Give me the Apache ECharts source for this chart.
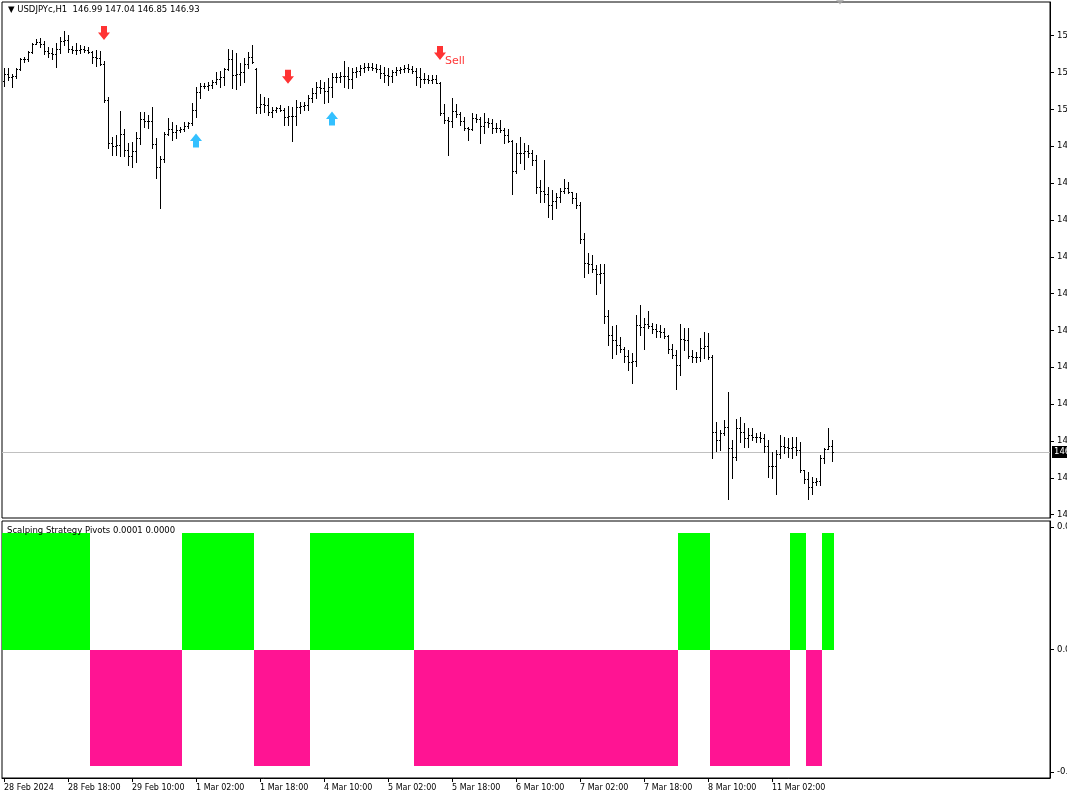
<!DOCTYPE html>
<html><head><meta charset="utf-8">
<script src="https://cdn.jsdelivr.net/npm/echarts@6/dist/echarts.min.js"></script>
<style>html,body{margin:0;padding:0;background:#fff}#c{width:1067px;height:800px}</style>
</head><body><div id="c"></div>
<script>
const symbolName = 'USDJPYc,H1';
const indicatorName = 'Scalping Strategy Pivots 0.0001 0.0000';

const barOpen = [150.40,150.46,150.43,150.44,150.51,150.60,150.60,150.67,150.74,150.76,
150.74,150.68,150.66,150.65,150.70,150.77,150.78,150.70,150.69,150.69,
150.70,150.69,150.67,150.62,150.61,150.56,150.22,149.82,149.79,149.80,
149.90,149.75,149.70,149.74,149.86,150.04,150.02,150.02,149.81,149.59,
149.67,149.90,149.95,149.92,149.94,149.95,149.98,150.00,150.13,150.29,
150.35,150.35,150.36,150.39,150.42,150.43,150.51,150.60,150.45,150.46,
150.48,150.56,150.62,150.51,150.15,150.18,150.17,150.11,150.13,150.14,
150.13,150.06,150.07,150.07,150.15,150.16,150.17,150.24,150.28,150.34,
150.33,150.30,150.34,150.43,150.43,150.44,150.44,150.42,150.48,150.49,
150.52,150.53,150.53,150.52,150.51,150.47,150.45,150.44,150.48,150.50,
150.51,150.52,150.51,150.49,150.43,150.42,150.42,150.41,150.42,150.38,
150.10,150.03,150.02,150.12,150.09,150.02,149.96,149.95,150.05,150.04,
149.98,150.01,150.00,149.96,149.96,149.94,149.89,149.84,149.56,149.72,
149.72,149.74,149.72,149.66,149.41,149.37,149.34,149.24,149.28,149.31,
149.37,149.40,149.36,149.30,149.24,148.92,148.70,148.69,148.64,148.59,
148.60,148.20,148.02,147.98,147.93,147.89,147.83,147.77,147.78,148.12,
148.10,148.13,148.11,148.08,148.06,148.05,148.01,147.89,147.84,147.74,
147.99,147.98,147.83,147.82,147.82,147.90,147.92,147.82,147.12,147.04,
147.11,147.16,146.97,146.88,147.15,147.12,147.06,147.09,147.07,147.07,
147.06,146.99,146.80,146.80,146.91,146.99,146.98,146.97,146.98,146.95,
146.76,146.68,146.60,146.65,146.66,146.87,146.96,146.99];

const barHigh = [150.515,150.521,150.459,150.521,150.615,150.624,150.677,150.749,150.789,150.802,
150.770,150.718,150.702,150.749,150.811,150.864,150.827,150.727,150.749,150.733,
150.727,150.718,150.677,150.686,150.677,150.584,150.250,149.876,149.892,150.116,
149.948,149.814,149.830,149.917,150.104,150.104,150.079,150.157,149.861,149.699,
149.917,150.048,150.010,149.986,149.970,150.017,150.010,150.188,150.344,150.375,
150.375,150.384,150.406,150.484,150.491,150.516,150.696,150.687,150.656,150.562,
150.609,150.671,150.734,150.516,150.273,150.251,150.235,150.157,150.157,150.173,
150.142,150.167,150.157,150.220,150.204,150.204,150.266,150.329,150.391,150.406,
150.391,150.422,150.469,150.469,150.484,150.584,150.531,150.516,150.531,150.547,
150.562,150.562,150.562,150.553,150.547,150.531,150.516,150.500,150.531,150.531,
150.547,150.553,150.540,150.516,150.516,150.469,150.453,150.453,150.453,150.391,
150.182,150.064,150.235,150.182,150.111,150.064,149.970,150.095,150.089,150.064,
150.095,150.048,150.039,150.002,150.033,149.955,149.945,149.846,149.815,149.871,
149.815,149.799,149.752,149.706,149.472,149.659,149.410,149.379,149.347,149.394,
149.478,149.456,149.363,149.347,149.270,148.974,148.787,148.771,148.678,148.687,
148.687,148.257,148.108,148.117,148.002,147.914,147.883,147.852,148.210,148.304,
148.179,148.247,148.132,148.123,148.117,148.086,148.023,147.936,147.883,148.123,
148.086,148.086,147.883,147.867,147.992,148.054,148.039,147.836,147.213,147.135,
147.229,147.487,147.042,147.238,147.260,147.198,147.157,147.157,147.104,147.114,
147.095,147.042,146.933,146.949,147.089,147.073,147.058,147.073,147.073,147.026,
146.762,146.746,146.699,146.690,146.902,146.964,147.151,147.040];

const barLow = [150.353,150.406,150.344,150.422,150.499,150.577,150.584,150.655,150.739,150.718,
150.646,150.624,150.602,150.531,150.655,150.733,150.671,150.655,150.646,150.655,
150.665,150.655,150.562,150.540,150.546,150.197,149.767,149.705,149.705,149.699,
149.699,149.612,149.596,149.643,149.805,149.970,149.954,149.767,149.487,149.213,
149.643,149.892,149.845,149.861,149.917,149.929,149.954,149.986,150.063,150.235,
150.328,150.313,150.328,150.366,150.344,150.360,150.500,150.329,150.322,150.360,
150.391,150.516,150.562,150.095,150.095,150.111,150.079,150.064,150.111,150.117,
149.986,149.986,149.836,149.986,150.095,150.126,150.126,150.204,150.235,150.282,
150.188,150.204,150.251,150.391,150.391,150.344,150.329,150.329,150.438,150.453,
150.484,150.500,150.500,150.484,150.422,150.391,150.360,150.391,150.453,150.469,
150.484,150.484,150.469,150.360,150.344,150.375,150.375,150.375,150.375,150.079,
150.002,149.706,149.970,150.064,149.986,149.939,149.846,149.939,150.017,149.821,
149.908,149.970,149.908,149.924,149.924,149.815,149.830,149.341,149.534,149.628,
149.572,149.690,149.612,149.347,149.270,149.270,149.129,149.104,149.207,149.270,
149.347,149.354,149.254,149.207,148.880,148.562,148.606,148.615,148.407,148.506,
148.133,147.930,147.805,147.846,147.868,147.774,147.697,147.578,147.734,148.023,
147.892,148.086,148.039,148.008,148.008,147.992,147.852,147.805,147.519,147.649,
147.883,147.805,147.774,147.774,147.780,147.805,147.799,146.871,146.939,146.948,
147.089,146.491,146.684,146.855,147.026,146.980,146.980,147.042,147.026,147.026,
146.927,146.699,146.684,146.534,146.871,146.917,146.886,146.871,146.902,146.746,
146.637,146.491,146.534,146.621,146.621,146.824,146.958,146.850];

const barClose = [150.46,150.43,150.44,150.51,150.60,150.60,150.67,150.74,150.76,150.74,
150.68,150.66,150.65,150.70,150.77,150.78,150.70,150.69,150.69,150.70,
150.69,150.67,150.62,150.61,150.56,150.22,149.82,149.79,149.80,149.90,
149.75,149.70,149.74,149.86,150.04,150.02,150.02,149.81,149.59,149.67,
149.90,149.95,149.92,149.94,149.95,149.98,150.00,150.13,150.29,150.35,
150.35,150.36,150.39,150.42,150.43,150.51,150.60,150.45,150.46,150.48,
150.56,150.62,150.57,150.15,150.18,150.17,150.11,150.13,150.14,150.13,
150.06,150.07,150.07,150.15,150.16,150.17,150.24,150.28,150.34,150.33,
150.30,150.34,150.43,150.43,150.44,150.44,150.42,150.48,150.49,150.52,
150.53,150.53,150.52,150.51,150.47,150.45,150.44,150.48,150.50,150.51,
150.52,150.51,150.49,150.43,150.42,150.42,150.41,150.42,150.38,150.10,
150.03,150.02,150.12,150.09,150.02,149.96,149.95,150.05,150.04,149.98,
150.01,150.00,149.96,149.96,149.94,149.89,149.84,149.56,149.72,149.72,
149.74,149.72,149.66,149.41,149.37,149.34,149.24,149.28,149.31,149.37,
149.40,149.36,149.30,149.24,148.92,148.70,148.69,148.64,148.59,148.60,
148.20,148.02,147.98,147.93,147.89,147.83,147.77,147.78,148.12,148.10,
148.13,148.11,148.08,148.06,148.05,148.01,147.89,147.84,147.74,147.99,
147.98,147.83,147.82,147.82,147.90,147.92,147.82,147.12,147.04,147.11,
147.16,146.97,146.88,147.15,147.12,147.06,147.09,147.07,147.07,147.06,
146.99,146.80,146.80,146.91,146.99,146.98,146.97,146.98,146.95,146.76,
146.68,146.60,146.65,146.66,146.87,146.96,146.99,146.93];

// time labels every 16 hourly bars, starting 28 Feb 02:00
const timeLabels = ['28 Feb 2024','28 Feb 18:00','29 Feb 10:00','1 Mar 02:00','1 Mar 18:00','4 Mar 10:00','5 Mar 02:00','5 Mar 18:00','6 Mar 10:00','7 Mar 02:00','7 Mar 18:00','8 Mar 10:00','11 Mar 02:00'];
const barsPerLabel = 16;
const totalSlots = 262;   // 208 bars + chart shift space

const priceMin = 146.313, priceMax = 151.135;
const priceTicks = [150.820,150.475,150.131,149.787,149.442,149.098,148.754,148.410,148.066,147.722,147.377,147.033,146.689,146.345];
const currentPrice = 146.93;

const P = 0.0001, N = -0.0001;
const pivotValues = [
P,P,P,P,P,P,P,P,P,P, P,P,P,P,P,P,P,P,P,P, P,P,
N,N,N,N,N,N,N,N,N,N, N,N,N,N,N,N,N,N,N,N, N,N,N,
P,P,P,P,P,P,P,P,P,P, P,P,P,P,P,P,P,P,
N,N,N,N,N,N,N,N,N,N, N,N,N,N,
P,P,P,P,P,P,P,P,P,P, P,P,P,P,P,P,P,P,P,P, P,P,P,P,P,P,
N,N,N,N,N,N,N,N,N,N, N,N,N,N,N,N,N,N,N,N, N,N,N,N,N,N,N,N,N,N, N,N,N,N,N,N,N,N,N,N, N,N,N,N,N,N,N,N,N,N, N,N,N,N,N,N,N,N,N,N, N,N,N,N,N,N,
P,P,P,P,P,P,P,P,
N,N,N,N,N,N,N,N,N,N, N,N,N,N,N,N,N,N,N,N,
P,P,P,P,
N,N,N,N,
P,P,P];
const indicatorTicks = [0.000105, 0, -0.000105];
const upColor = '#00ff00', downColor = '#ff1493';

const sellBars = [25, 71, 109];
const sellPrices = [150.846, 150.437, 150.659];
const sellTexts = ['', '', 'Sell'];
const buyBars = [48, 82];
const buyPrices = [149.841, 150.047];

const FONT = 'DejaVu Sans';
const slots = [];
for (let i = 0; i < totalSlots; i++) slots.push(String(i));

const ohlc = barHigh.map((h, i) => [i, barOpen[i], h, barLow[i], barClose[i]]);
const pivots = pivotValues.map((v, i) => [i, v]);
const last = barHigh.length - 1;
const header = '\u25BC ' + symbolName + '  ' + [barOpen[last], barHigh[last], barLow[last], barClose[last]].map(v => v.toFixed(2)).join(' ');

const downArrow = 'path://M3,0 L9,0 L9,6 L12,6 L6,13 L0,6 L3,6 Z';
const upArrow = 'path://M6,0 L12,7 L9,7 L9,13 L3,13 L3,7 L0,7 Z';

const showLabelAt = (idx) => idx % barsPerLabel === 0 && idx / barsPerLabel < timeLabels.length;

const chart = echarts.init(document.getElementById('c'), null, {renderer: 'canvas'});
chart.setOption({
  animation: false,
  backgroundColor: '#fff',
  title: [
    {text: header, left: 8, top: 5, padding: 0, textStyle: {fontFamily: FONT, fontSize: 8.5, fontWeight: 'normal', color: '#000'}},
    {text: indicatorName, left: 7, top: 526, padding: 0, textStyle: {fontFamily: FONT, fontSize: 8.5, fontWeight: 'normal', color: '#000'}}
  ],
  grid: [
    {left: 2, top: 2, width: 1048, height: 516, show: true, borderColor: '#000', borderWidth: 1,
      backgroundColor: 'transparent', containLabel: false, outerBoundsMode: 'none'},
    {left: 2, top: 521, width: 1048, height: 257, show: true, borderColor: '#000', borderWidth: 1,
      backgroundColor: 'transparent', containLabel: false, outerBoundsMode: 'none'}
  ],
  xAxis: [
    {type: 'category', gridIndex: 0, data: slots, show: false, boundaryGap: true},
    {type: 'category', gridIndex: 1, data: slots, boundaryGap: true,
      axisLine: {show: true, onZero: false, lineStyle: {color: '#000'}},
      axisTick: {show: true, alignWithLabel: true, length: 4, lineStyle: {color: '#000'}, interval: showLabelAt},
      axisLabel: {show: true, align: 'left', margin: 6, fontFamily: FONT, fontSize: 8, color: '#000',
        interval: showLabelAt, hideOverlap: false,
        formatter: (v, idx) => timeLabels[idx / barsPerLabel] || ''},
      splitLine: {show: false}}
  ],
  yAxis: [
    {type: 'value', gridIndex: 0, position: 'right', min: priceMin, max: priceMax, scale: true,
      axisLine: {show: true, lineStyle: {color: '#000'}},
      axisTick: {show: true, length: 4, lineStyle: {color: '#000'}, customValues: priceTicks},
      axisLabel: {show: true, margin: 7, fontFamily: FONT, fontSize: 8.5, color: '#000', customValues: priceTicks,
        formatter: v => v.toFixed(3)},
      splitLine: {show: false}},
    {type: 'value', gridIndex: 1, position: 'right', min: -0.00011, max: 0.00011,
      axisLine: {show: true, lineStyle: {color: '#000'}},
      axisTick: {show: true, length: 4, lineStyle: {color: '#000'}, customValues: indicatorTicks},
      axisLabel: {show: true, margin: 7, fontFamily: FONT, fontSize: 8.5, color: '#000', customValues: indicatorTicks,
        formatter: v => v.toFixed(4)},
      splitLine: {show: false}}
  ],
  series: [
    {
      type: 'custom', xAxisIndex: 0, yAxisIndex: 0, data: ohlc, z: 3, clip: false,
      encode: {x: 0, y: [1, 2, 3, 4]},
      renderItem: function (params, api) {
        const i = api.value(0);
        const o = api.coord([i, api.value(1)]);
        const h = api.coord([i, api.value(2)]);
        const l = api.coord([i, api.value(3)]);
        const c = api.coord([i, api.value(4)]);
        const px = Math.round(o[0]);
        const x = px + 0.5;
        const yh = Math.round(h[1]);
        const yl = Math.round(l[1]) + 1;
        const yo = Math.round(o[1]) + 0.5;
        const yc = Math.round(c[1]) + 0.5;
        const st = {stroke: '#000', lineWidth: 1};
        return {type: 'group', children: [
          {type: 'line', shape: {x1: x, y1: yh, x2: x, y2: yl}, style: st},
          {type: 'line', shape: {x1: px - 1, y1: yo, x2: px, y2: yo}, style: st},
          {type: 'line', shape: {x1: px + 1, y1: yc, x2: px + 2, y2: yc}, style: st}
        ]};
      },
      markLine: {
        silent: true, symbol: ['none', 'none'], z: 1,
        lineStyle: {color: '#c0c0c0', width: 1, type: 'solid'},
        label: {show: true, position: 'end', distance: 2, formatter: currentPrice.toFixed(3),
          backgroundColor: '#000', color: '#fff', padding: [2, 2, 1, 2], fontFamily: FONT, fontSize: 8.5},
        data: [{yAxis: currentPrice}]
      }
    },
    {
      type: 'scatter', xAxisIndex: 0, yAxisIndex: 0, clip: false, z: 5,
      symbol: downArrow, symbolSize: [12, 14], itemStyle: {color: '#ff0000'},
      data: sellBars.map((b, k) => ({value: [b, sellPrices[k]],
        label: {show: !!sellTexts[k], formatter: sellTexts[k], position: [11, 10],
          color: '#ff0000', fontFamily: FONT, fontSize: 11}}))
    },
    {
      type: 'scatter', xAxisIndex: 0, yAxisIndex: 0, clip: false, z: 5,
      symbol: upArrow, symbolSize: [12, 14], itemStyle: {color: '#00b0ff'},
      data: buyBars.map((b, k) => [b, buyPrices[k]])
    },
    {
      type: 'scatter', xAxisIndex: 0, yAxisIndex: 0, clip: false, z: 6, silent: true,
      symbol: 'path://M0,0 L10,0 L5,5 Z', symbolSize: [9, 5], itemStyle: {color: '#a8a8a8'},
      data: [[barHigh.length + 1, priceMax]]
    },
    {
      type: 'custom', xAxisIndex: 1, yAxisIndex: 1, data: pivots, z: 2,
      encode: {x: 0, y: 1},
      renderItem: function (params, api) {
        const i = api.value(0), v = api.value(1);
        const top = api.coord([i, v]);
        const base = api.coord([i, 0]);
        const bw = api.size([1, 0])[0];
        const x0 = Math.round(top[0] - bw / 2);
        const x1 = Math.round(top[0] + bw / 2);
        const y0 = Math.round(Math.min(top[1], base[1]));
        const y1 = Math.round(Math.max(top[1], base[1]));
        return {type: 'rect', shape: {x: x0, y: y0, width: x1 - x0, height: y1 - y0},
          style: {fill: v > 0 ? upColor : downColor}};
      }
    }
  ]
});
</script>
</body></html>
